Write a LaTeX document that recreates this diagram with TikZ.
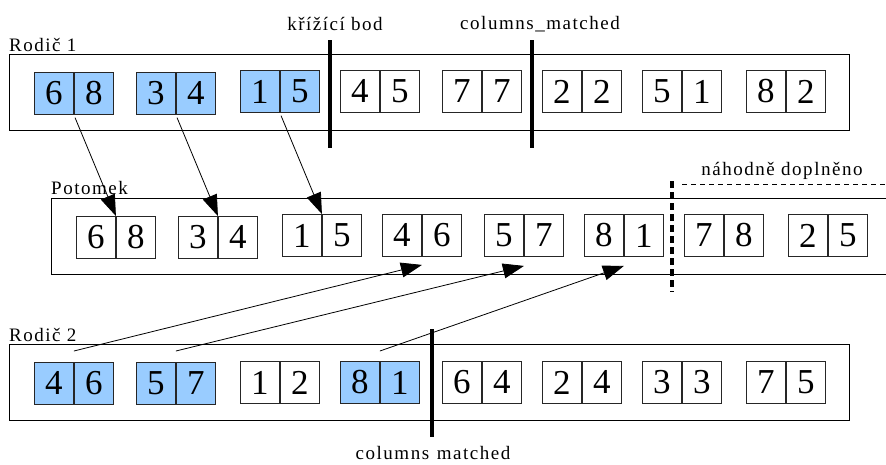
\documentclass[tikz,border=0pt]{standalone}
\usepackage{fontspec}
\setmainfont{Liberation Serif}
\usetikzlibrary{arrows.meta}
\definecolor{geneblue}{HTML}{99CCFF}

% one gene: two adjacent cells, optional style (e.g. highlighted)
\newcommand\genepair[6][]{%
  \node[cell,#1] (#2a) at (#3,#4) {#5};
  \node[cell,#1] (#2b) at (#2a.north east) {#6};
}

\tikzset{
  cell/.style={draw=black!85, line width=0.9pt, minimum width=39pt,
    minimum height=42pt, inner sep=0pt, anchor=north west,
    font=\fontsize{35}{35}\selectfont},
  hl/.style={fill=geneblue},
  chrom/.style={draw, line width=1pt, inner sep=0pt, anchor=north west},
  cutline/.style={line width=4pt},
  lbl/.style={inner sep=0pt,
    font=\fontsize{19}{19}\selectfont\addfontfeature{LetterSpace=8}},
  link/.style={line width=0.8pt, -{Triangle[length=21pt,width=15pt]}},
}

\begin{document}
\begin{tikzpicture}[x=1pt,y=-1pt]
\clip (0,0) rectangle (886,464);

% chromosome frames
\node[chrom, minimum width=840pt, minimum height=76pt] (rodic1) at (9,54) {};
\node[chrom, minimum width=860pt, minimum height=76pt] (potomek) at (51,198) {};
\node[chrom, minimum width=840pt, minimum height=76pt] (rodic2) at (9,344) {};

% labels
\node[lbl, anchor=base west] (lr1) at (9,51) {Rodič 1};
\node[lbl, anchor=base] (lcross) at (335,30) {křížící bod};
\node[lbl, anchor=base] (lcm1) at (540,29) {columns\_matched};
\node[lbl, anchor=base west] (lpot) at (51,194) {Potomek};
\node[lbl, anchor=base] (lrand) at (782,175) {náhodně doplněno};
\node[lbl, anchor=base west] (lr2) at (9,341) {Rodič 2};
\node[lbl, anchor=base] (lcm2) at (433,459) {columns\hspace{0.4em}matched};

% parent 1
\genepair[hl]{ap1}{34}{72}{6}{8}
\genepair[hl]{ap2}{136}{72}{3}{4}
\genepair[hl]{ap3}{240}{70}{1}{5}
\genepair{ap4}{340}{70}{4}{5}
\genepair{ap5}{442}{70}{7}{7}
\genepair{ap6}{542}{70}{2}{2}
\genepair{ap7}{642}{70}{5}{1}
\genepair{ap8}{746}{70}{8}{2}

% offspring
\genepair{op1}{76}{216}{6}{8}
\genepair{op2}{178}{216}{3}{4}
\genepair{op3}{282}{214}{1}{5}
\genepair{op4}{382}{214}{4}{6}
\genepair{op5}{484}{214}{5}{7}
\genepair{op6}{584}{214}{8}{1}
\genepair{op7}{684}{214}{7}{8}
\genepair{op8}{788}{214}{2}{5}

% parent 2
\genepair[hl]{bp1}{34}{362}{4}{6}
\genepair[hl]{bp2}{136}{362}{5}{7}
\genepair{bp3}{240}{361}{1}{2}
\genepair[hl]{bp4}{340}{361}{8}{1}
\genepair{bp5}{442}{361}{6}{4}
\genepair{bp6}{542}{361}{2}{4}
\genepair{bp7}{642}{361}{3}{3}
\genepair{bp8}{746}{361}{7}{5}

% crossover point and matched-column markers
\draw[cutline] (330,40) -- (330,148);
\draw[cutline] (532,40) -- (532,148);
\draw[cutline] (432,329) -- (432,437);
\draw[cutline, dash pattern=on 7pt off 4pt] (672,181) -- (672,292);
\draw[line width=0.8pt, dash pattern=on 5pt off 4pt] (682,184) -- (892,184);

% genes taken from parent 1
\draw[link, shorten <=3pt] (ap1a.south east) -- (op1a.north east);
\draw[link, shorten <=3pt] (ap2a.south east) -- (op2a.north east);
\draw[link, shorten <=3pt] (ap3a.south east) -- (op3a.north east);

% genes taken from parent 2
\coordinate (s1) at ([yshift=11pt]bp1a.north east);
\coordinate (s2) at ([yshift=11pt]bp2a.north east);
\coordinate (s3) at ([yshift=10pt]bp4a.north east);
\coordinate (e1) at ([yshift=-8pt]op4a.south east);
\coordinate (e2) at ([yshift=-9pt]op5a.south east);
\coordinate (e3) at ([yshift=-9pt]op6a.south east);
\draw[link] (s1) -- (e1);
\draw[link] (s2) -- (e2);
\draw[link] (s3) -- (e3);
\end{tikzpicture}
\end{document}
